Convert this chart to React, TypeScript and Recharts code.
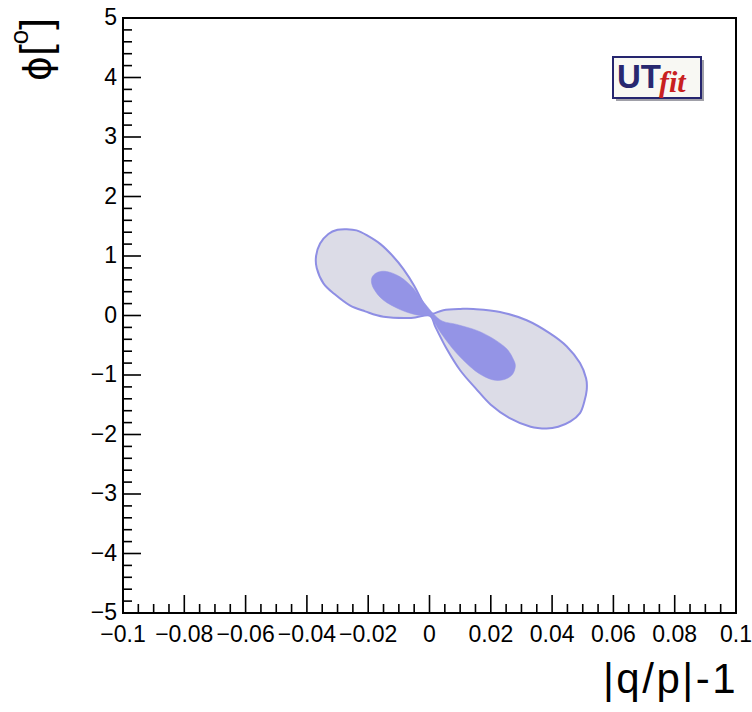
import React from "react";
import { ScatterChart, Scatter, XAxis, YAxis, ReferenceArea } from "recharts";

// axis ticks
const xMajorTicks = [-0.1, -0.08, -0.06, -0.04, -0.02, 0, 0.02, 0.04, 0.06, 0.08, 0.1];
const yMajorTicks = [-5, -4, -3, -2, -1, 0, 1, 2, 3, 4, 5];
const xMinorStep = 0.005;
const yMinorStep = 0.2;

// outer (light) contour: |q/p|-1 vs phi [deg]
const outerQp = [
  0, -0.006, -0.015, -0.021, -0.026, -0.031, -0.0346, -0.0368, -0.037, -0.0357, -0.033,
  -0.03, -0.027, -0.0238, -0.0205, -0.016, -0.012, -0.0085, -0.005, -0.002, 0.0005,
  0.0045, 0.01, 0.0143, 0.023, 0.0317, 0.0393, 0.0448, 0.0491, 0.0511, 0.0513, 0.0505,
  0.0491, 0.046, 0.042, 0.0382, 0.033, 0.026, 0.02, 0.015, 0.01, 0.0055, 0.002,
];
const outerPhi = [
  0, -0.04, -0.02, 0.07, 0.17, 0.36, 0.54, 0.8, 1.0, 1.21, 1.37,
  1.44, 1.45, 1.43, 1.35, 1.2, 1.0, 0.78, 0.5, 0.2, 0.03,
  0.09, 0.11, 0.11, 0.06, -0.08, -0.3, -0.52, -0.8, -1.06, -1.25, -1.45,
  -1.64, -1.78, -1.87, -1.9, -1.87, -1.72, -1.5, -1.22, -0.92, -0.55, -0.2,
];

// inner (dark) contour
const innerQp = [
  0, -0.0042, -0.0096, -0.0151, -0.0183, -0.0189, -0.0172, -0.014, -0.0096, -0.0053, -0.002,
  0.0034, 0.0089, 0.0154, 0.0208, 0.0252, 0.0274, 0.028, 0.0269, 0.0241, 0.0205, 0.016,
  0.0118, 0.0076, 0.0034, 0.0012,
];
const innerPhi = [
  0, 0.01, 0.1, 0.26, 0.46, 0.62, 0.72, 0.74, 0.65, 0.46, 0.23,
  -0.07, -0.15, -0.25, -0.39, -0.56, -0.74, -0.86, -1.0, -1.08, -1.08, -0.97,
  -0.79, -0.56, -0.27, -0.08,
];

const outerData = outerQp.map((x, i) => ({ x, y: outerPhi[i] }));
const innerData = innerQp.map((x, i) => ({ x, y: innerPhi[i] }));

function buildTicks(major: number[], step: number) {
  const out: number[] = [];
  const lo = major[0];
  const hi = major[major.length - 1];
  const n = Math.round((hi - lo) / step);
  for (let i = 0; i <= n; i++) out.push(Math.round((lo + i * step) * 10000) / 10000);
  return out;
}
const xTicks = buildTicks(xMajorTicks, xMinorStep);
const yTicks = buildTicks(yMajorTicks, yMinorStep);

const isMajor = (v: number, major: number[]) => major.some((m) => Math.abs(m - v) < 1e-6);
const fmt = (v: number) => String(v).replace("-", "\u2212");

const FONT = "'Liberation Sans', Arial, Helvetica, sans-serif";

const XTick = (props: any) => {
  const { x, y, payload } = props;
  const major = isMajor(payload.value, xMajorTicks);
  return (
    <g>
      <line x1={x} x2={x} y1={y} y2={y - (major ? 18 : 9)} stroke="#000" strokeWidth={1.6} />
      {major && (
        <text x={x} y={y + 29} textAnchor="middle" fontSize={23} fontFamily={FONT} fill="#000">
          {fmt(payload.value)}
        </text>
      )}
    </g>
  );
};

const YTick = (props: any) => {
  const { x, y, payload } = props;
  const major = isMajor(payload.value, yMajorTicks);
  return (
    <g>
      <line x1={x} x2={x + (major ? 18 : 9)} y1={y} y2={y} stroke="#000" strokeWidth={1.6} />
      {major && (
        <text x={x - 6} y={y + 7} textAnchor="end" fontSize={23} fontFamily={FONT} fill="#000">
          {fmt(payload.value)}
        </text>
      )}
    </g>
  );
};

// closed catmull-rom through the contour points
function smoothClosed(pts: { x: number; y: number }[]) {
  const n = pts.length;
  let d = `M${pts[0].x},${pts[0].y}`;
  for (let i = 0; i < n; i++) {
    const p0 = pts[(i - 1 + n) % n];
    const p1 = pts[i];
    const p2 = pts[(i + 1) % n];
    const p3 = pts[(i + 2) % n];
    const c1x = p1.x + (p2.x - p0.x) / 6;
    const c1y = p1.y + (p2.y - p0.y) / 6;
    const c2x = p2.x - (p3.x - p1.x) / 6;
    const c2y = p2.y - (p3.y - p1.y) / 6;
    d += ` C${c1x},${c1y} ${c2x},${c2y} ${p2.x},${p2.y}`;
  }
  return d + " Z";
}

const contour = (fill: string, stroke: string, sw: number) => (p: any) =>
  <path d={smoothClosed(p.points)} fill={fill} stroke={stroke} strokeWidth={sw} strokeLinejoin="round" />;

const noDot = () => <g />;

export default function App() {
  return (
    <div style={{ position: "absolute", left: 0, top: 0, width: 752, height: 712, background: "#fff" }}>
      <ScatterChart width={752} height={712} margin={{ top: 18, right: 16, bottom: 0, left: 63 }}>
        <XAxis
          type="number"
          dataKey="x"
          domain={[-0.1, 0.1]}
          ticks={xTicks}
          interval={0}
          height={99}
          tickSize={0}
          tickMargin={0}
          axisLine={false}
          tickLine={false}
          tick={<XTick />}
          allowDataOverflow
        />
        <YAxis
          type="number"
          dataKey="y"
          domain={[-5, 5]}
          ticks={yTicks}
          interval={0}
          width={60}
          tickSize={0}
          tickMargin={0}
          axisLine={false}
          tickLine={false}
          tick={<YTick />}
          allowDataOverflow
        />
        <Scatter
          data={outerData}
          fill="#dcdce7"
          line={contour("#dcdce7", "#8e8ee4", 2)}
          shape={noDot}
          isAnimationActive={false}
        />
        <Scatter
          data={innerData}
          fill="#9494e6"
          line={contour("#9494e6", "#9494e6", 0.5)}
          shape={noDot}
          isAnimationActive={false}
        />
        <ReferenceArea x1={-0.1} x2={0.1} y1={-5} y2={5} fill="none" stroke="#000" strokeWidth={2} />
      </ScatterChart>

      <svg width={752} height={712} style={{ position: "absolute", left: 0, top: 0, pointerEvents: "none" }}>
        <text x={738} y={693} textAnchor="end" fontSize={42} letterSpacing={2.5} fontFamily={FONT} fill="#000">
          |q/p|-1
        </text>
        <text transform="translate(50,18) rotate(-90)" textAnchor="end" fontSize={42} fontFamily={FONT} fill="#000">
          <tspan fontFamily="'DejaVu Sans', sans-serif" fontSize={38}>ϕ</tspan>[<tspan fontSize={26} dy={-22}>o</tspan>
          <tspan dy={22}>]</tspan>
        </text>

        {/* UTfit logo */}
        <rect x={616} y={60} width={88} height={41} fill="#a0a0a8" />
        <rect x={613} y={57} width={88} height={41} fill="#f8f8f3" stroke="#25256e" strokeWidth={2} />
        <text x={617} y={88} fontSize={33} fontWeight="bold" fontFamily={FONT} fill="#28286f">
          UT
        </text>
        <text x={659} y={92} fontSize={30} fontWeight="bold" fontStyle="italic" fontFamily="'Liberation Serif', 'Times New Roman', serif" fill="#c82020">
          fit
        </text>
      </svg>
    </div>
  );
}
